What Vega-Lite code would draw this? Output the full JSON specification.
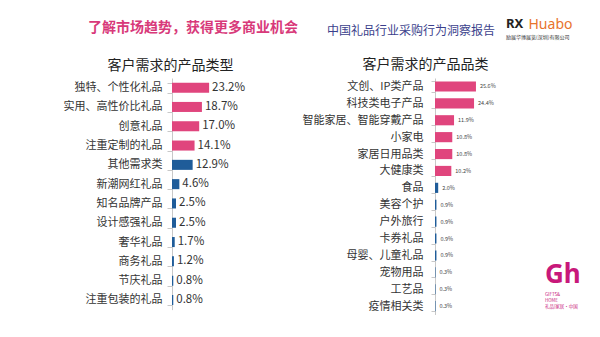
{
  "$schema": "https://vega.github.io/schema/vega-lite/v6.json",
  "background": "white",
  "padding": {"left": 63, "top": 17, "right": 0, "bottom": 0},
  "config": {"font": "Noto Sans CJK SC", "view": {"stroke": null}},
  "bounds": "flush",
  "spacing": 7,
  "hconcat": [
    {
      "width": 256,
      "height": {"step": 19.3},
      "title": {"text": "了解市场趋势，获得更多商业机会", "anchor": "start", "frame": "group", "dx": -84, "offset": 23, "fontSize": 14, "fontWeight": "bold", "color": "#d8397a", "font": "Noto Sans CJK SC"},
      "data": {"values": [
        {"type": "独特、个性化礼品", "share": 0.232},
        {"type": "实用、高性价比礼品", "share": 0.187},
        {"type": "创意礼品", "share": 0.170},
        {"type": "注重定制的礼品", "share": 0.141},
        {"type": "其他需求类", "share": 0.129},
        {"type": "新潮网红礼品", "share": 0.046},
        {"type": "知名品牌产品", "share": 0.025},
        {"type": "设计感强礼品", "share": 0.025},
        {"type": "奢华礼品", "share": 0.017},
        {"type": "商务礼品", "share": 0.012},
        {"type": "节庆礼品", "share": 0.008},
        {"type": "注重包装的礼品", "share": 0.008}
      ]},
      "encoding": {
        "y": {"field": "type", "type": "nominal", "sort": null, "title": null,
          "scale": {"paddingInner": 0.48, "paddingOuter": 0.24},
          "axis": {"labelFontSize": 11, "labelColor": "#333333", "labelPadding": 5, "tickSize": 5, "tickBand": "extent", "tickColor": "#c8c8c8", "domainColor": "#c8c8c8"}}
      },
      "layer": [
        {
          "mark": {"type": "bar"},
          "encoding": {
            "x": {"field": "share", "type": "quantitative", "scale": {"domain": [0, 1.414]},
              "axis": {"orient": "top", "title": "客户需求的产品类型", "labels": false, "ticks": false, "domain": false, "grid": false, "titleFontSize": 14, "titleFontWeight": "normal", "titleColor": "#222222", "titlePadding": 6, "titleX": -2, "titleAlign": "center"}},
            "color": {"condition": {"test": "datum.share >= 0.14", "value": "#e0457d"}, "value": "#1f5c99"}
          }
        },
        {
          "mark": {"type": "text", "align": "left", "dx": 3, "fontSize": 11.5, "color": "#333333"},
          "encoding": {
            "x": {"field": "share", "type": "quantitative"},
            "text": {"field": "share", "format": ".1%"}
          }
        }
      ]
    },
    {
      "width": 64,
      "height": {"step": 16.9},
      "title": {"text": "中国礼品行业采购行为洞察报告", "anchor": "start", "frame": "group", "dx": -108, "offset": 19, "fontSize": 12, "fontWeight": "normal", "color": "#3b3f8c", "font": "Noto Sans CJK SC"},
      "data": {"values": [
        {"category": "文创、IP类产品", "share": 0.256},
        {"category": "科技类电子产品", "share": 0.244},
        {"category": "智能家居、智能穿戴产品", "share": 0.119},
        {"category": "小家电", "share": 0.108},
        {"category": "家居日用品类", "share": 0.108},
        {"category": "大健康类", "share": 0.102},
        {"category": "食品", "share": 0.020},
        {"category": "美容个护", "share": 0.009},
        {"category": "户外旅行", "share": 0.009},
        {"category": "卡券礼品", "share": 0.009},
        {"category": "母婴、儿童礼品", "share": 0.009},
        {"category": "宠物用品", "share": 0.003},
        {"category": "工艺品", "share": 0.003},
        {"category": "疫情相关类", "share": 0.003}
      ]},
      "encoding": {
        "y": {"field": "category", "type": "nominal", "sort": null, "title": null,
          "scale": {"paddingInner": 0.4, "paddingOuter": 0.2},
          "axis": {"labelFontSize": 11, "labelColor": "#333333", "labelPadding": 8, "tickSize": 4, "tickBand": "extent", "tickColor": "#c8c8c8", "domainColor": "#c8c8c8"}}
      },
      "layer": [
        {
          "mark": {"type": "bar"},
          "encoding": {
            "x": {"field": "share", "type": "quantitative", "scale": {"domain": [0, 0.39]},
              "axis": {"orient": "top", "title": "客户需求的产品品类", "labels": false, "ticks": false, "domain": false, "grid": false, "titleFontSize": 14, "titleFontWeight": "normal", "titleColor": "#222222", "titlePadding": 7, "titleX": -10, "titleAlign": "center"}},
            "color": {"condition": {"test": "datum.share >= 0.1", "value": "#e0457d"}, "value": "#1f5c99"}
          }
        },
        {
          "mark": {"type": "text", "align": "left", "dx": 4, "fontSize": 5.5, "color": "#444444"},
          "encoding": {
            "x": {"field": "share", "type": "quantitative"},
            "text": {"field": "share", "format": ".1%"}
          }
        }
      ]
    },
    {
      "width": 15,
      "height": 10,
      "title": {"text": "RX", "subtitle": "励展华博展览(深圳)有限公司", "anchor": "start", "frame": "group", "offset": 37, "fontSize": 13, "fontWeight": "bold", "color": "#222222", "subtitleFontSize": 5, "subtitleColor": "#333333", "subtitlePadding": 4, "font": "Noto Sans", "subtitleFont": "Noto Sans CJK SC"},
      "data": {"values": [{"t": " "}]},
      "mark": {"type": "text"},
      "encoding": {"text": {"field": "t"}}
    },
    {
      "width": 47,
      "height": 178,
      "title": {"text": "Gh", "subtitle": ["GIFTS&", "HOME", "礼品|家居·中国"], "orient": "bottom", "anchor": "start", "frame": "group", "dx": 17, "offset": 6, "fontSize": 26, "fontWeight": "bold", "color": "#c8187a", "font": "Noto Sans", "subtitleFontSize": 4.5, "subtitleColor": "#c8187a", "subtitleLineHeight": 6, "subtitlePadding": 4, "subtitleFont": "Noto Sans CJK SC"},
      "data": {"values": [{"t": " "}]},
      "mark": {"type": "text"},
      "encoding": {
        "text": {"field": "t"},
        "x": {"field": "t", "type": "nominal",
          "axis": {"orient": "top", "title": "Huabo", "labels": false, "ticks": false, "domain": false, "grid": false, "titleFont": "Noto Sans", "titleFontSize": 14, "titleFontWeight": "normal", "titleColor": "#e8732c", "titleAlign": "left", "titleBaseline": "middle", "titleX": 0, "titleY": -54}}
      }
    }
  ]
}
